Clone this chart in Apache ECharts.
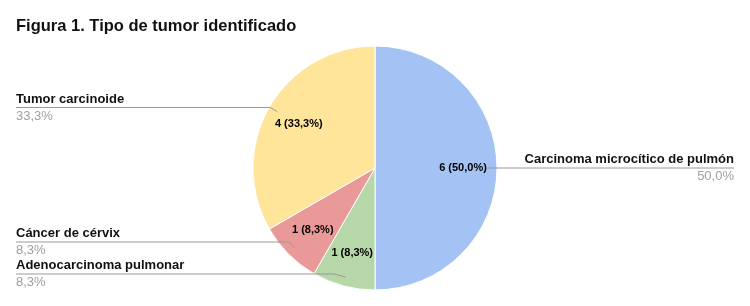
<!DOCTYPE html>
<html>
<head>
<meta charset="utf-8">
<script src="https://cdn.jsdelivr.net/npm/echarts@6/dist/echarts.min.js"></script>
<style>
    html, body { margin: 0; padding: 0; background: #fff; }
    #chart { width: 750px; height: 306px; }
</style>
</head>
<body>
<div id="chart"></div>
<script>
// datos del gráfico
var categorias = ['Carcinoma microcítico de pulmón', 'Adenocarcinoma pulmonar', 'Cáncer de cérvix', 'Tumor carcinoide'];
var valores = [6, 1, 1, 4];
var colores = ['#a4c2f4', '#b6d7a8', '#ea9999', '#ffe599'];

var fuente = "Arial, 'Liberation Sans', sans-serif";

function pct(p) {
    return p.percent.toFixed(1).replace('.', ',') + '%';
}

var datos = [];
for (var i = 0; i < categorias.length; i++) {
    datos.push({ name: categorias[i], value: valores[i], itemStyle: { color: colores[i] } });
}
var datosTransp = [];
for (var i = 0; i < categorias.length; i++) {
    datosTransp.push({ name: categorias[i], value: valores[i] });
}

var myChart = echarts.init(document.getElementById('chart'));

var option = {
    animation: false,
    title: {
        text: 'Figura 1. Tipo de tumor identificado',
        left: 11,
        top: 13,
        textStyle: { fontFamily: fuente, fontSize: 16.5, fontWeight: 'bold', color: '#111' }
    },
    series: [
        {
            // tarta visible
            type: 'pie',
            center: [375, 168],
            radius: [0, 122],
            startAngle: 90,
            silent: true,
            z: 1,
            label: { show: false },
            labelLine: { show: false },
            itemStyle: { borderColor: '#fff', borderWidth: 1 },
            data: datos
        },
        {
            // etiquetas interiores
            type: 'pie',
            center: [375, 168],
            radius: [48, 122],
            startAngle: 90,
            silent: true,
            z: 3,
            itemStyle: { color: 'rgba(0,0,0,0)' },
            label: {
                show: true,
                position: 'inside',
                fontFamily: fuente,
                fontSize: 11,
                fontWeight: 'bold',
                color: '#000',
                formatter: function (p) {
                    return p.value + ' (' + pct(p) + ')';
                }
            },
            labelLine: { show: false },
            data: datosTransp
        },
        {
            // etiquetas exteriores con líneas guía
            type: 'pie',
            center: [375, 168],
            radius: [0, 113],
            startAngle: 90,
            silent: true,
            z: 4,
            left: 0,
            right: 0,
            top: 0,
            bottom: 16,
            itemStyle: { color: 'rgba(0,0,0,0)' },
            label: {
                show: true,
                position: 'outside',
                alignTo: 'edge',
                edgeDistance: 16,
                distanceToLabelLine: 0,
                fontFamily: fuente,
                formatter: function (p) {
                    return '{n|' + p.name + '}\n{p|' + pct(p) + '}';
                },
                rich: {
                    n: { fontFamily: fuente, fontSize: 13, fontWeight: 'bold', color: '#111', lineHeight: 17 },
                    p: { fontFamily: fuente, fontSize: 13, color: '#9e9e9e', lineHeight: 17 }
                }
            },
            labelLine: {
                show: true,
                length: 8,
                length2: 10,
                lineStyle: { color: '#999', width: 1 }
            },
            labelLayout: function (params) {
                var pts = params.labelLinePoints;
                if (!pts) return {};
                var r = params.labelRect;
                var last = pts[pts.length - 1];
                if (r.x + r.width / 2 < 375) {
                    last[0] = r.x;
                } else {
                    last[0] = r.x + r.width;
                }
                return { labelLinePoints: pts };
            },
            data: datosTransp
        }
    ]
};

myChart.setOption(option);
</script>
</body>
</html>
